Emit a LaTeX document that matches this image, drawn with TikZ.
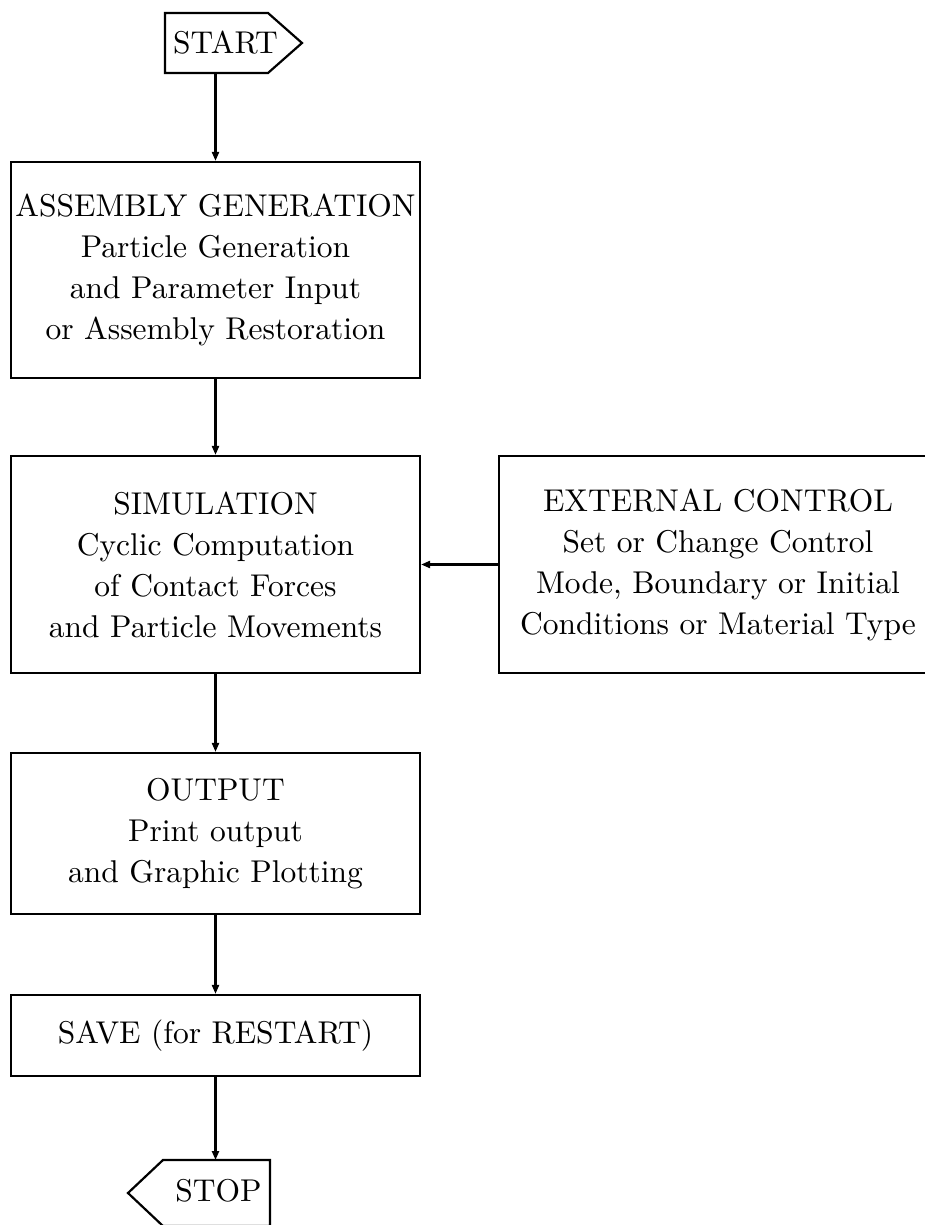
\documentclass[tikz,border=0pt]{standalone}
\usepackage{fontspec}
\setmainfont{lmroman10-regular}[Extension=.otf]
\usetikzlibrary{arrows.meta}
\begin{document}
\begin{tikzpicture}[x=1pt,y=-1pt,
  every node/.style={font=\fontsize{31.5}{41}\selectfont, align=center, inner sep=0pt},
  stepbox/.style={draw, line width=2.2pt, minimum width=409pt},
  outline/.style={draw, line width=2.2pt},
  flow/.style={line width=2.2pt, -{Triangle[length=9pt,width=7pt]}}]
\useasboundingbox (0,0) rectangle (925,1225);
\clip (0,0) rectangle (925,1225);

% process boxes
\node[stepbox, minimum height=216pt] (gen) at (215.5,270)
  {ASSEMBLY GENERATION\\Particle Generation\\and Parameter Input\\or Assembly Restoration};
\node[stepbox, minimum height=217pt] (sim) at (215.5,564.5)
  {SIMULATION\\Cyclic Computation\\of Contact Forces\\and Particle Movements};
\node[stepbox, minimum width=438pt, minimum height=217pt] (ext) at (718,564.5)
  {EXTERNAL CONTROL\\Set or Change Control\\Mode, Boundary or Initial\\Conditions or Material Type};
\node[stepbox, minimum height=161pt] (out) at (215.5,833.5)
  {OUTPUT\\Print output\\and Graphic Plotting};
\node[stepbox, minimum height=81pt] (save) at (215.5,1035.5)
  {SAVE (for RESTART)};

% terminal symbols
\node (start) at (225.5,43) {START};
\draw[outline] (165,13) -- (268,13) -- (302,43) -- (268,73) -- (165,73) -- cycle;
\coordinate (startfoot) at (215.5,73);

\node (stop) at (218.5,1191) {STOP};
\draw[outline] (270,1160) -- (163,1160) -- (128,1193) -- (163,1226) -- (270,1226) -- cycle;
\coordinate (stophead) at (215.5,1160);

% flow lines
\draw[flow] (startfoot) -- (gen.north);
\draw[flow] (gen.south) -- (sim.north);
\draw[flow] (sim.south) -- (out.north);
\draw[flow] (out.south) -- (save.north);
\draw[flow] (save.south) -- (stophead);
\draw[flow] (ext.west) -- (sim.east);
\end{tikzpicture}
\end{document}
